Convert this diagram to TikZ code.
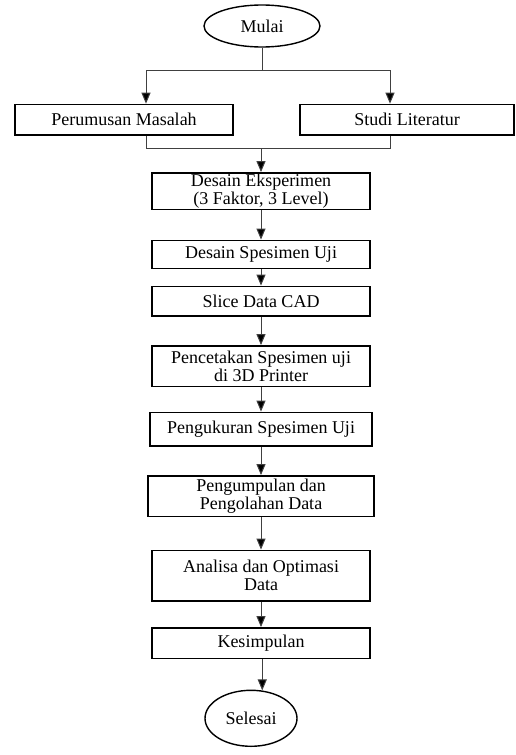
\documentclass[tikz,border=0pt]{standalone}
\usepackage{fontspec}
\setmainfont{Liberation Serif}
\usetikzlibrary{positioning,shapes.geometric,arrows.meta}
\begin{document}
\begin{tikzpicture}[x=1pt, y=1pt, node distance={30pt},
    box/.style = {draw, line width=1.4pt, rectangle, minimum width=218pt, minimum height=30.5pt, align=center, inner sep=1pt, font=\fontsize{18}{18}\selectfont},
    term/.style = {draw, line width=1.4pt, ellipse, minimum width=116pt, minimum height=42pt, inner sep=0pt, font=\fontsize{18}{18}\selectfont},
    link/.style = {line width=1pt, draw=black!75},
    arr/.style = {link, -{Triangle[length=11pt, width=9pt, fill=black]}}]
    \useasboundingbox (0,0) rectangle (515,-755);
    \node[term] (mulai) at (262,-26) {Mulai};
    \node[box] (pm) [below=56pt of mulai, xshift=-138pt] {Perumusan Masalah};
    \node[box, minimum width=214pt] (sl) [below=56pt of mulai, xshift=145pt] {Studi Literatur};
    \node[box, minimum height=36.5pt] (de) [below=36.5pt of pm, xshift=137pt] {Desain Eksperimen\\(3 Faktor, 3 Level)};
    \node[box, minimum height=28pt] (ds) [below=29.6pt of de] {Desain Spesimen Uji};
    \node[box, minimum height=29.5pt] (slice) [below=16.6pt of ds] {Slice Data CAD};
    \node[box, minimum height=40.5pt] (cetak) [below=28.6pt of slice] {Pencetakan Spesimen uji\\di 3D Printer};
    \node[box, minimum width=222pt, minimum height=33.5pt] (ukur) [below=24.6pt of cetak] {Pengukuran Spesimen Uji};
    \node[box, minimum width=226pt, minimum height=40.5pt] (olah) [below=28.6pt of ukur] {Pengumpulan dan\\Pengolahan Data};
    \node[box, minimum height=50.5pt] (analisa) [below=32.6pt of olah] {Analisa dan Optimasi\\Data};
    \node[box] (simpul) [below=25.6pt of analisa] {Kesimpulan};
    \node[term, minimum width=92pt, minimum height=56pt] (selesai) [below=30.6pt of simpul, xshift=-10pt] {Selesai};
    % percabangan atas
    \draw[link] (mulai.south) -- ++(0,-22.5) coordinate (fork);
    \draw[arr] (fork) -| ([xshift=22pt]pm.north);
    \draw[arr] (fork) -| ([xshift=-17pt]sl.north);
    % penggabungan
    \draw[link] ([xshift=22pt]pm.south) -- ++(0,-12.5) coordinate (join) -| ([xshift=-17pt]sl.south);
    \draw[arr] (join -| de.north) -- (de.north);
    % alur utama
    \foreach \a/\b in {de/ds, ds/slice, slice/cetak, cetak/ukur, ukur/olah, olah/analisa, analisa/simpul}
        \draw[arr] (\a) -- (\b);
    \draw[arr] (simpul.south -| selesai.68) -- (selesai.68);
\end{tikzpicture}
\end{document}
